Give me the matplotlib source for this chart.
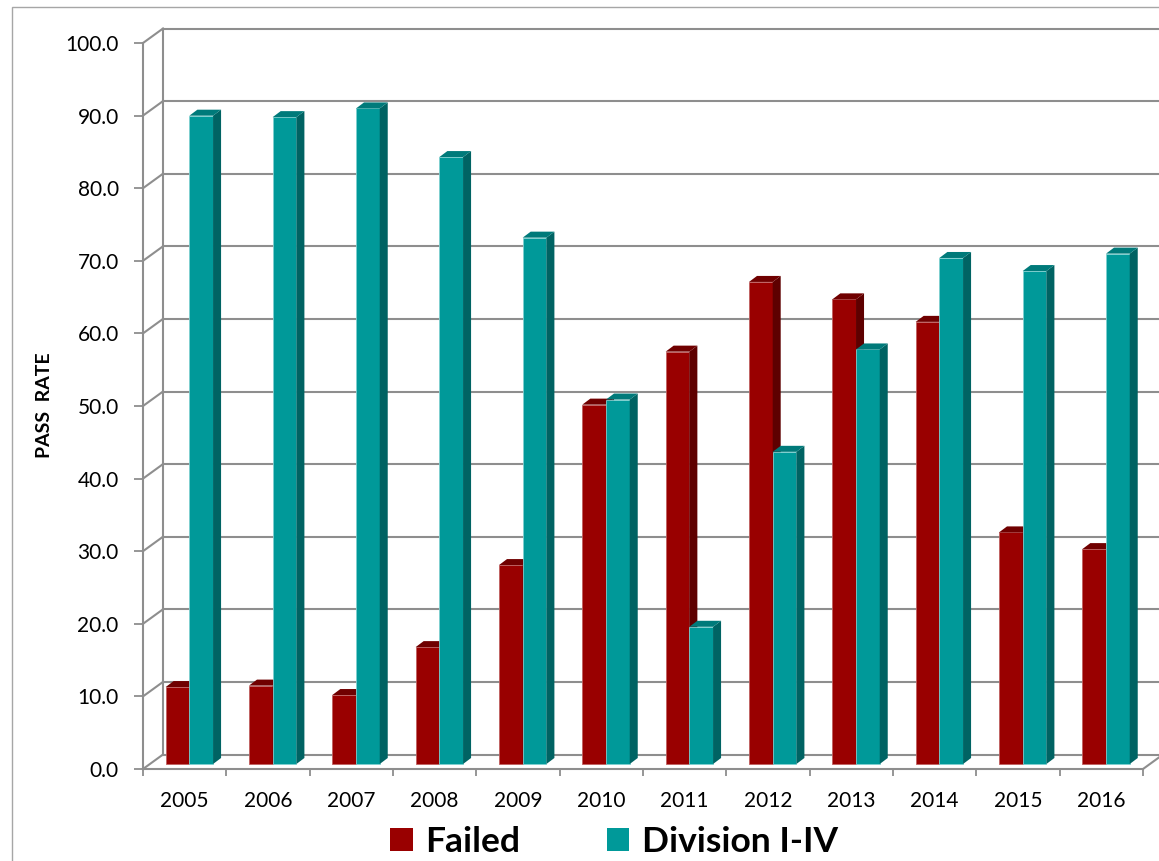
import matplotlib.pyplot as plt
from matplotlib.patches import Polygon, Patch, Rectangle
import numpy as np

years = ['2005', '2006', '2007', '2008', '2009', '2010',
         '2011', '2012', '2013', '2014', '2015', '2016']
failed = [10.6, 10.8, 9.5, 16.1, 27.4, 49.5, 56.8, 66.4, 64.0, 60.9, 31.9, 29.6]
division = [89.3, 89.1, 90.3, 83.6, 72.5, 50.2, 18.9, 43.0, 57.1, 69.7, 67.9, 70.3]

plt.rcParams['font.family'] = ['Lato', 'DejaVu Sans']

W, H = 1159, 861
fig = plt.figure(figsize=(W / 100, H / 100), dpi=100)
ax = fig.add_axes([143 / W, 1 - 769 / H, 1000 / W, 726 / H])
ax.set_xlim(0, 12)
ax.set_ylim(0, 100)

px = 1000 / 12      # pixels per category
py = 7.26           # pixels per percent
grid_c = '#8e8e8e'

# back wall offset (fake 3d)
wx, wy = 20 / px, 14.5 / py
for v in range(0, 101, 10):
    ax.plot([0, wx], [v, v + wy], color=grid_c, lw=1.5, clip_on=False, zorder=1)
    ax.plot([wx, 12 + wx], [v + wy, v + wy], color=grid_c, lw=1.5, clip_on=False, zorder=1)
ax.plot([wx, wx], [wy, 100 + wy], color=grid_c, lw=1.5, clip_on=False, zorder=1)
ax.plot([12, 12 + wx], [0, wy], color=grid_c, lw=1.5, clip_on=False, zorder=1)

# bars
w = 23.7 / px
sx, sy = 4.7 / px, 5 / py
dx, dy = 8 / px, 6 / py
x = np.arange(len(years))
series = [
    (failed, x + 0.5 + sx - w / 2, '#990000', '#5e0000', '#700000', '#c06060'),
    (division, x + 0.5 + sx + w / 2, '#009999', '#006363', '#007a7a', '#7fd0d0'),
]
z = 3
for vals, xc, front, side, top, edge in series:
    bars = ax.bar(xc, vals, width=w, bottom=sy, color=front, edgecolor=edge,
                  linewidth=0.6, zorder=z)
    for b in bars:
        x0, x1 = b.get_x(), b.get_x() + b.get_width()
        y0, y1 = b.get_y(), b.get_y() + b.get_height()
        ax.add_patch(Polygon([(x1, y0), (x1 + dx, y0 + dy), (x1 + dx, y1 + dy), (x1, y1)],
                             closed=True, facecolor=side, edgecolor='none', zorder=z))
        ax.add_patch(Polygon([(x0, y1), (x0 + dx, y1 + dy), (x1 + dx, y1 + dy), (x1, y1)],
                             closed=True, facecolor=top, edgecolor='none', zorder=z))
    z += 1

for s in ['top', 'right']:
    ax.spines[s].set_visible(False)
for s in ['left', 'bottom']:
    ax.spines[s].set_color(grid_c)
    ax.spines[s].set_linewidth(1.5)

ax.set_yticks(range(0, 101, 10))
ax.set_yticklabels([f'{v:.1f}' for v in range(0, 101, 10)])
ax.tick_params(axis='y', length=6.5, width=1.3, color=grid_c, pad=11, labelsize=15)
ax.set_xticks(range(13))
ax.set_xticklabels([])
ax.tick_params(axis='x', which='major', length=5, width=1.3, color=grid_c)
ax.set_xticks(x + 0.5, minor=True)
ax.set_xticklabels(years, minor=True)
ax.tick_params(axis='x', which='minor', length=0, pad=16, labelsize=15)

fig.text(45 / W, 1 - 405 / H, 'PASS  RATE', rotation=90, ha='center', va='center',
         fontsize=14, fontweight='bold')

handles = [Patch(facecolor='#990000'), Patch(facecolor='#009999')]
fig.legend(handles, ['Failed', 'Division I-IV'], loc='center',
           bbox_to_anchor=(614 / W, 1 - 842 / H), ncol=2, frameon=False,
           prop={'size': 25.5, 'weight': 'bold'}, handlelength=0.63,
           handleheight=0.63, handletextpad=0.35, columnspacing=2.45)

# chart area border
fig.add_artist(Rectangle((12 / W, -0.1), 2, 1.1 - 7 / H, transform=fig.transFigure,
                         fill=False, edgecolor='#a6a6a6', lw=1, clip_on=False))

fig.savefig('out.png', dpi=100)
